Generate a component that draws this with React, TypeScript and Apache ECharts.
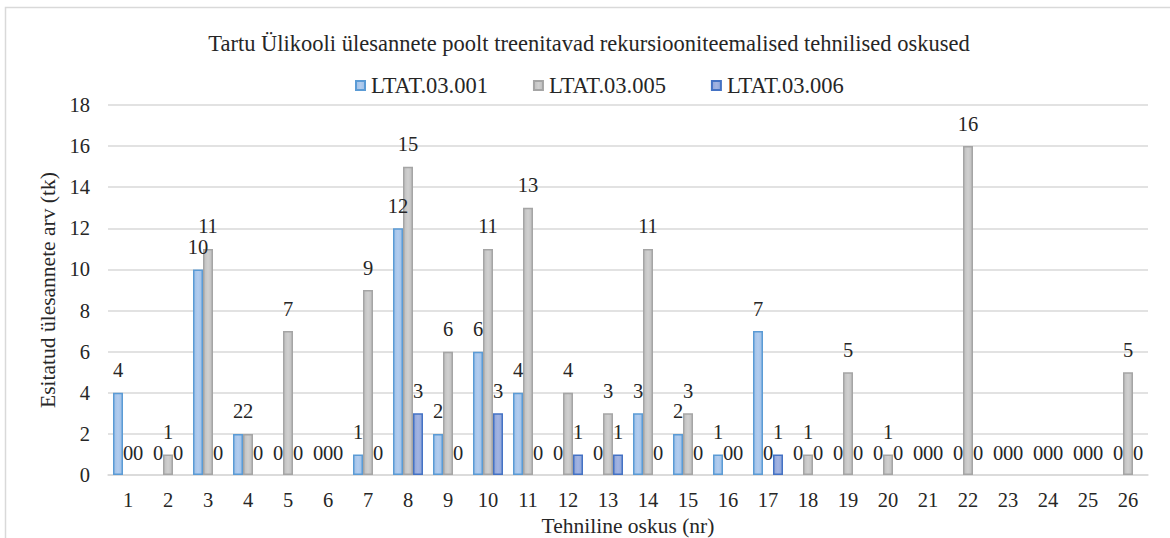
import React, { useEffect, useRef } from "react";
import * as echarts from "echarts";

const categories = ["1","2","3","4","5","6","7","8","9","10","11","12","13","14","15","16","17","18","19","20","21","22","23","24","25","26"];
const seriesNames = ["LTAT.03.001", "LTAT.03.005", "LTAT.03.006"];
const ltat001 = [4,0,10,2,0,0,1,12,2,6,4,0,0,3,2,1,7,0,0,0,0,0,0,0,0,0];
const ltat005 = [0,1,11,2,7,0,9,15,6,11,13,4,3,11,3,0,0,1,5,1,0,16,0,0,0,5];
const ltat006 = [0,0,0,0,0,0,0,3,0,3,0,1,1,0,0,0,1,0,0,0,0,0,0,0,0,0];
const yTicks = { min: 0, max: 18, interval: 2 };
const titleText = "Tartu Ülikooli ülesannete poolt treenitavad rekursiooniteemalised tehnilised oskused";
const xName = "Tehniline oskus (nr)";
const yName = "Esitatud ülesannete arv (tk)";

const FONT = "'Liberation Serif', 'Times New Roman', serif";
const TXT = "#262626";

function grad(a: string, b: string) {
  return new echarts.graphic.LinearGradient(0, 0, 1, 0, [
    { offset: 0, color: a },
    { offset: 0.5, color: b },
    { offset: 1, color: a },
  ]);
}

export default function App() {
  const ref = useRef<HTMLDivElement>(null);
  useEffect(() => {
    if (!ref.current) return;
    const chart = echarts.init(ref.current, null, { renderer: "svg" });
    const styles = [
      { fill: grad("#9fc0e8", "#b3cdee"), border: "#5b9bd5" },
      { fill: grad("#bfbfbf", "#d0d0d0"), border: "#a5a5a5" },
      { fill: grad("#8ea5da", "#a3b4e2"), border: "#4472c4" },
    ];
    const data = [ltat001, ltat005, ltat006];
    chart.setOption({
      animation: false,
      backgroundColor: "#ffffff",
      textStyle: { fontFamily: FONT, color: TXT },
      title: {
        text: titleText,
        left: 584,
        textAlign: "center",
        top: 27,
        textStyle: { fontFamily: FONT, fontSize: 22.5, fontWeight: "normal", color: TXT },
      },
      legend: {
        top: 69,
        left: 350,
        itemWidth: 9,
        itemHeight: 9,
        itemGap: 45,
        icon: "rect",
        textStyle: { fontFamily: FONT, fontSize: 22.5, color: TXT, padding: [0, 0, 0, 1] },
        data: seriesNames,
      },
      grid: { left: 108, right: 22, top: 105, bottom: 63, containLabel: false, outerBoundsMode: "none" },
      xAxis: {
        type: "category",
        data: categories,
        name: xName,
        nameLocation: "middle",
        nameGap: 38,
        nameTextStyle: { fontFamily: FONT, fontSize: 21.5, color: TXT },
        axisLine: { lineStyle: { color: "#d9d9d9", width: 1.5 } },
        axisTick: { show: false },
        axisLabel: { fontFamily: FONT, fontSize: 20.5, color: TXT, margin: 14 },
      },
      yAxis: {
        type: "value",
        min: yTicks.min,
        max: yTicks.max,
        interval: yTicks.interval,
        name: yName,
        nameLocation: "middle",
        nameRotate: 90,
        nameGap: 44,
        nameTextStyle: { fontFamily: FONT, fontSize: 21.5, color: TXT },
        axisLine: { show: false },
        axisTick: { show: false },
        axisLabel: { fontFamily: FONT, fontSize: 20.5, color: TXT, margin: 18 },
        splitLine: { lineStyle: { color: "#d9d9d9", width: 1.5 } },
      },
      graphic: [
        {
          type: "rect",
          shape: { x: 5.5, y: 7.5, width: 1300, height: 700 },
          style: { fill: "none", stroke: "#d9d9d9", lineWidth: 1.5 },
          silent: true,
        },
      ],
      series: data.map((d, i) => ({
        type: "bar",
        name: seriesNames[i],
        data: d.map((v) =>
          v === 0 ? { value: v, itemStyle: { borderWidth: 0, color: "rgba(0,0,0,0)" } } : { value: v }
        ),
        barWidth: 10,
        barGap: "0%",
        itemStyle: { color: styles[i].fill, borderColor: styles[i].border, borderWidth: 1.5 },
        label: {
          show: true,
          position: "top",
          distance: 12,
          fontFamily: FONT,
          fontSize: 20.5,
          color: TXT,
        },
      })),
    });
    return () => chart.dispose();
  }, []);
  return (
    <div
      ref={ref}
      style={{ position: "fixed", left: 0, top: 0, width: 1170, height: 538 }}
    />
  );
}
